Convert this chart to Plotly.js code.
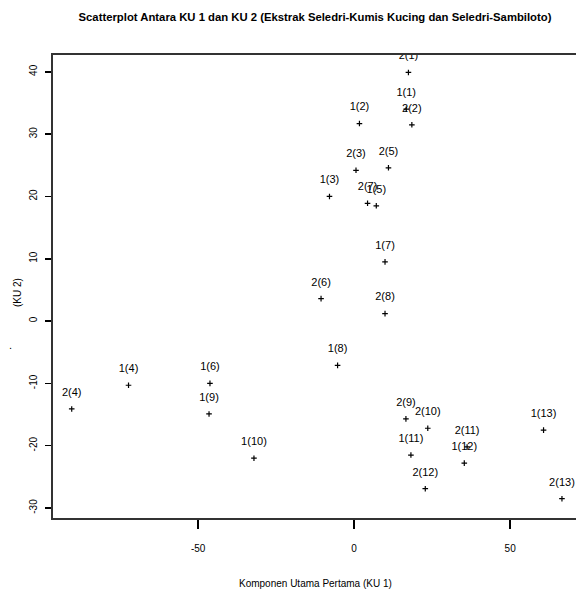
<!DOCTYPE html>
<html>
<head>
<meta charset="utf-8">
<script src="https://cdn.plot.ly/plotly-3.0.1.min.js"></script>
<style>html,body{margin:0;padding:0;background:#fff;}#chart{width:576px;height:599px;}</style>
</head>
<body>
<div id="chart"></div>
<script>
// Data
const labels = ["2(1)","1(1)","1(2)","2(2)","2(3)","2(5)","1(3)","2(7)","1(5)","1(7)","2(6)","2(8)","1(8)",
                "2(4)","1(4)","1(6)","1(9)","1(10)","2(9)","2(10)","1(11)","2(12)","2(11)","1(12)","1(13)","2(13)"];
const ku1 = [17.4,16.7,1.7,18.5,0.6,11.0,-7.9,4.3,7.1,9.9,-10.6,9.9,-5.3,
             -90.5,-72.3,-46.2,-46.5,-32.1,16.6,23.6,18.2,22.8,36.2,35.3,60.7,66.6];
const ku2 = [39.9,34.0,31.7,31.5,24.2,24.6,20.0,18.9,18.5,9.5,3.6,1.2,-7.1,
             -14.1,-10.3,-10.0,-14.9,-22.0,-15.7,-17.2,-21.5,-26.9,-20.2,-22.8,-17.5,-28.5];
const xTickVals = [-50, 0, 50];
const xTickText = ["-50", "0", "50"];
const yTickVals = [-30, -20, -10, 0, 10, 20, 30, 40];
const yTickText = ["-30", "-20", "-10", "0", "10", "20", "30", "40"];

const sans = "Liberation Sans, Arial, sans-serif";

const traces = [
  {
    type: "scatter", mode: "markers", x: ku1, y: ku2,
    marker: {symbol: "cross-thin-open", size: 4, line: {width: 1.2, color: "#000"}, color: "#000"},
    hoverinfo: "skip", showlegend: false
  },
  {
    type: "scatter", mode: "markers+text", x: ku1, y: ku2, text: labels,
    textposition: "top center", cliponaxis: true,
    textfont: {family: sans, size: 11, color: "#000"},
    marker: {size: 15, color: "rgba(0,0,0,0)"},
    hoverinfo: "skip", showlegend: false
  }
];

const layout = {
  width: 576, height: 599,
  margin: {l: 53, r: 0, t: 55, b: 81},
  paper_bgcolor: "#fff", plot_bgcolor: "#fff",
  showlegend: false,
  title: {
    text: "Scatterplot Antara KU 1 dan KU 2 (Ekstrak Seledri-Kumis Kucing dan Seledri-Sambiloto)",
    font: {family: sans, size: 11.3, color: "#000", weight: "bold"},
    x: 315/576, xanchor: "center", xref: "container", yref: "container", y: 1 - 17/599, yanchor: "middle"
  },
  xaxis: {
    range: [-96.5, 71.1], tickvals: xTickVals, ticktext: xTickText,
    showgrid: false, zeroline: false,
    showline: true, mirror: true, linecolor: "#333", linewidth: 2,
    ticks: "outside", ticklen: 9, tickwidth: 1.5, tickcolor: "#000",
    tickfont: {family: sans, size: 10, color: "#000"}, ticklabelstandoff: 11
  },
  yaxis: {
    range: [-31.6, 42.7], tickvals: yTickVals, ticktext: yTickText,
    showgrid: false, zeroline: false,
    showline: true, mirror: false, linecolor: "#333", linewidth: 2,
    ticks: "outside", ticklen: 6, tickwidth: 1.5, tickcolor: "#000",
    tickangle: -90,
    tickfont: {family: sans, size: 10, color: "#000"}, ticklabelstandoff: 4
  },
  annotations: [
    {text: "Komponen Utama Pertama (KU 1)", xref: "paper", yref: "paper",
     x: (315-53)/523, y: (518-583)/463, xanchor: "center", yanchor: "middle", showarrow: false,
     font: {family: sans, size: 10, color: "#000"}},
    {text: "(KU 2)", xref: "paper", yref: "paper", textangle: -90,
     x: (17-53)/523, y: (518-293)/463, xanchor: "center", yanchor: "middle", showarrow: false,
     font: {family: sans, size: 10, color: "#000"}},
    {text: ".", xref: "paper", yref: "paper",
     x: (10-53)/523, y: (518-345)/463, xanchor: "center", yanchor: "middle", showarrow: false,
     font: {family: sans, size: 11, color: "#000"}}
  ]
};

Plotly.newPlot("chart", traces, layout, {displayModeBar: false, staticPlot: true});
</script>
</body>
</html>
